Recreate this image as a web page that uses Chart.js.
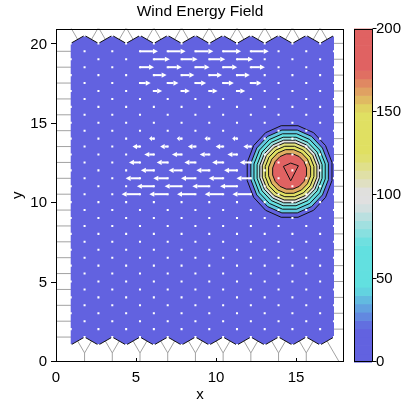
<!DOCTYPE html>
<html><head><meta charset="utf-8">
<script src="https://cdn.jsdelivr.net/npm/chart.js@4/dist/chart.umd.min.js"></script>
<style>html,body{margin:0;padding:0;background:#fff}#wrap{width:407px;height:409px;position:relative}</style>
</head><body><div id="wrap"><canvas id="c"></canvas></div>
<script>
// ---------- data ----------
const TITLE = 'Wind Energy Field';
const X_LABEL = 'x', Y_LABEL = 'y';
const X_RANGE = [0, 18], Y_RANGE = [0, 21], CB_RANGE = [0, 200];
const X_TICKS = [0, 5, 10, 15];
const Y_TICKS = [0, 5, 10, 15, 20];
const CB_TICKS = [0, 50, 100, 150, 200];

// triangular mesh (node m,n exists when m+n is even)
const MESH_X0 = 0.92, MESH_DX = 0.866, MESH_NX = 20;
const MESH_Y0 = 1.07, MESH_DY = 0.5, MESH_NY = 40;

// energy contours (levels and ring half-widths)
const CONTOUR_LEVELS = [20, 40, 60, 80, 100, 120, 140, 160, 180];
const RING_RX = [2.70, 2.47, 2.27, 2.07, 1.90, 1.74, 1.55, 1.34, 1.08];
const RING_RY = [2.94, 2.66, 2.42, 2.20, 2.01, 1.83, 1.62, 1.40, 1.13];
const RING_CENTER = [14.6, 12.0];
const PEAK_LEVEL = 200;
const PEAK_CENTER = [14.67, 12.0];
const PEAK_DX = [-0.46, 0.0, 0.48, 0.0];
const PEAK_DY = [0.32, 0.53, 0.36, -0.59];

// colour map (value stops)
const CMAP_STOPS = [0, 20, 45, 70, 95, 102, 125, 150, 175, 200];
const CMAP_RGB = [[98,98,224],[98,98,224],[98,224,224],[98,224,224],[224,224,224],[224,224,224],[224,224,98],[224,224,98],[224,98,98],[224,98,98]];

// wind vectors: mesh rows and their u component (x-direction)
const EAST_ROWS = [37, 36, 35, 34, 33, 32];
const EAST_U    = [1.12, 1.0, 0.88, 0.8, 0.67, 0.52];
const WEST_ROWS = [26, 25, 24, 23, 22, 21, 20, 19];
const WEST_U    = [-0.3, -0.47, -0.6, -0.69, -0.81, -0.9, -1.06, -1.15];
const ARROW_COLS = [5, 13];

// ---------- helpers ----------
const meshX = m => MESH_X0 + MESH_DX * m;
const meshY = n => MESH_Y0 + MESH_DY * n;
function cmap(v) {
  v = Math.max(CMAP_STOPS[0], Math.min(CMAP_STOPS[CMAP_STOPS.length - 1], v));
  for (let i = 0; i < CMAP_STOPS.length - 1; i++) {
    if (v <= CMAP_STOPS[i + 1]) {
      const t = (v - CMAP_STOPS[i]) / (CMAP_STOPS[i + 1] - CMAP_STOPS[i] || 1);
      const a = CMAP_RGB[i], b = CMAP_RGB[i + 1];
      return 'rgb(' + a.map((c, k) => Math.round(c + (b[k] - c) * t)).join(',') + ')';
    }
  }
  return 'rgb(' + CMAP_RGB[CMAP_RGB.length - 1].join(',') + ')';
}
const meshPts = [];
for (let n = 0; n < MESH_NY; n++) for (let m = 0; m < MESH_NX; m++) if ((m + n) % 2 === 0) meshPts.push({x: meshX(m), y: meshY(n)});

function bottomEdge() { const p = []; for (let m = 0; m < MESH_NX; m++) p.push([meshX(m), meshY(m % 2)]); return p; }
function topEdge() { const p = []; for (let m = MESH_NX - 1; m >= 0; m--) p.push([meshX(m), meshY(m % 2 ? MESH_NY - 1 : MESH_NY - 2)]); return p; }

const FONT = '"Liberation Sans", Arial, Helvetica, sans-serif';

const fieldPlugin = {
  id: 'field',
  beforeDatasetsDraw(chart) {
    const {ctx, chartArea: a, scales: {x, y}} = chart;
    const P = (vx, vy) => [x.getPixelForValue(vx), y.getPixelForValue(vy)];
    const poly = (pts, close) => { ctx.beginPath(); pts.forEach((pt, i) => { const p = P(pt[0], pt[1]); i ? ctx.lineTo(p[0], p[1]) : ctx.moveTo(p[0], p[1]); }); if (close) ctx.closePath(); };
    ctx.save();
    ctx.beginPath(); ctx.rect(a.left, a.top, a.right - a.left, a.bottom - a.top); ctx.clip();
    // dual (cell) lines outside the mesh
    const h = MESH_DX / 3, s = 2 * MESH_DX / 3;
    ctx.beginPath();
    const seg = (x1, y1, x2, y2) => { const p = P(x1, y1), q = P(x2, y2); ctx.moveTo(p[0], p[1]); ctx.lineTo(q[0], q[1]); };
    for (let n = 1; n <= MESH_NY - 3; n += 2) seg(X_RANGE[0] - 1, meshY(n), meshX(0) + h, meshY(n));
    for (let n = 2; n <= MESH_NY - 2; n += 2) seg(meshX(MESH_NX - 1) - h, meshY(n), X_RANGE[1] + 1, meshY(n));
    for (let m = 1; m <= MESH_NX - 3; m += 2) {
      const vy = meshY(0) - MESH_DY;
      seg(meshX(m), Y_RANGE[0] - 1, meshX(m), vy);
      seg(meshX(m), vy, meshX(m) - s, meshY(1));
      seg(meshX(m), vy, meshX(m) + s, meshY(1));
    }
    for (let m = 2; m <= MESH_NX - 2; m += 2) {
      const vy = meshY(MESH_NY - 1) + MESH_DY;
      seg(meshX(m), vy, meshX(m) - s, meshY(MESH_NY - 2));
      seg(meshX(m), vy, meshX(m) + s, meshY(MESH_NY - 2));
    }
    { const sx = meshX(MESH_NX - 1) - s, sy = meshY(1); seg(sx, sy, sx + 0.5 * 4, sy - 0.866 * 4); }
    { const sx = meshX(0) + s, sy = meshY(MESH_NY - 2); seg(sx, sy, sx - 0.5 * 4, sy + 0.866 * 4); }
    ctx.strokeStyle = '#a2a2a2'; ctx.lineWidth = 1; ctx.stroke();
    // mesh domain
    const dom = bottomEdge().concat(topEdge());
    poly(dom, true);
    ctx.fillStyle = cmap(0); ctx.fill();
    ctx.save(); ctx.clip();
    const ring = i => { const pts = []; const N = 16; for (let k = 0; k < N; k++) { const t = (k + 0.5) * 2 * Math.PI / N; pts.push([RING_CENTER[0] + RING_RX[i] * Math.cos(t), RING_CENTER[1] + RING_RY[i] * Math.sin(t)]); } return pts; };
    const peak = PEAK_DX.map((d, k) => [PEAK_CENTER[0] + d, PEAK_CENTER[1] + PEAK_DY[k]]);
    CONTOUR_LEVELS.forEach((lv, i) => { poly(ring(i), true); ctx.fillStyle = cmap(lv); ctx.fill(); });
    poly(peak, true); ctx.fillStyle = cmap(PEAK_LEVEL); ctx.fill();
    ctx.strokeStyle = '#111'; ctx.lineWidth = 1;
    CONTOUR_LEVELS.forEach((lv, i) => { poly(ring(i), true); ctx.stroke(); });
    poly(peak, true); ctx.stroke();
    ctx.restore();
    ctx.strokeStyle = '#111'; ctx.lineWidth = 1;
    poly(bottomEdge(), false); ctx.stroke();
    poly(topEdge(), false); ctx.stroke();
    ctx.restore();
  },
  afterDatasetsDraw(chart) {
    const {ctx, chartArea: a, scales: {x, y, cb}} = chart;
    // arrows
    ctx.save();
    ctx.fillStyle = '#fff'; ctx.strokeStyle = '#fff'; ctx.lineWidth = 2; ctx.lineCap = 'butt';
    const arrow = (vx, vy, u) => {
      const x1 = x.getPixelForValue(vx), y1 = y.getPixelForValue(vy), x2 = x.getPixelForValue(vx + u), y2 = y1;
      const dx = x2 - x1, L = Math.abs(dx); if (L < 0.5) return;
      const ux = dx / L, hl = Math.min(5, L * 0.6), hw = 2.6;
      ctx.beginPath(); ctx.moveTo(x1, y1); ctx.lineTo(x2 - ux * hl, y2); ctx.stroke();
      ctx.beginPath(); ctx.moveTo(x2, y2); ctx.lineTo(x2 - ux * hl, y2 - hw); ctx.lineTo(x2 - ux * hl, y2 + hw); ctx.closePath(); ctx.fill();
    };
    const rowArrows = (rows, us) => rows.forEach((n, i) => {
      for (let m = ARROW_COLS[0]; m <= ARROW_COLS[1]; m++) if ((m + n) % 2 === 0) arrow(meshX(m), meshY(n), us[i]);
    });
    rowArrows(EAST_ROWS, EAST_U);
    rowArrows(WEST_ROWS, WEST_U);
    ctx.restore();
    // frame and ticks
    ctx.save();
    ctx.strokeStyle = '#000'; ctx.lineWidth = 1;
    ctx.strokeRect(Math.round(a.left) + 0.5, Math.round(a.top) + 0.5, Math.round(a.right - a.left) - 1, Math.round(a.bottom - a.top) - 1);
    ctx.beginPath();
    Y_TICKS.forEach(v => { const py = Math.round(y.getPixelForValue(v)) - 0.5; ctx.moveTo(a.left - 5, py); ctx.lineTo(a.left, py); });
    X_TICKS.forEach(v => { if (v === X_RANGE[0]) return; const pxv = Math.round(x.getPixelForValue(v)) + 0.5; ctx.moveTo(pxv, a.bottom); ctx.lineTo(pxv, a.bottom - 4); });
    ctx.stroke();
    // colour bar
    const bx = cb.left + 10, bw = 18;
    for (let v = CB_RANGE[0]; v < CB_RANGE[1]; v += 5) {
      const p0 = cb.getPixelForValue(v), p1 = cb.getPixelForValue(v + 5);
      ctx.fillStyle = cmap(v + 2.5); ctx.fillRect(bx, p1, bw, p0 - p1 + 0.6);
    }
    ctx.strokeRect(Math.round(bx) + 0.5, Math.round(cb.top) + 0.5, bw, Math.round(cb.bottom - cb.top) - 1);
    ctx.beginPath();
    CB_TICKS.forEach(v => { const py = Math.round(cb.getPixelForValue(v)) - 0.5; ctx.moveTo(Math.round(bx) + bw + 0.5, py); ctx.lineTo(Math.round(bx) + bw + 4.5, py); });
    ctx.stroke();
    ctx.restore();
  }
};

new Chart(document.getElementById('c'), {
  type: 'scatter',
  data: { datasets: [{
    data: meshPts, pointStyle: 'rect', pointRadius: 1.45, pointHoverRadius: 1.45,
    pointBackgroundColor: '#ffffff', pointBorderWidth: 0, pointBorderColor: 'rgba(0,0,0,0)'
  }]},
  options: {
    responsive: true, maintainAspectRatio: false, animation: false,
    layout: { padding: 0 },
    plugins: {
      legend: { display: false }, tooltip: { enabled: false },
      title: { display: true, text: TITLE, color: '#000', fullSize: false,
        font: { family: FONT, size: 15.5, weight: 'normal' }, padding: { top: 2, bottom: 8 } }
    },
    scales: {
      x: { type: 'linear', position: 'bottom', min: X_RANGE[0], max: X_RANGE[1],
        afterBuildTicks: s => { s.ticks = X_TICKS.map(v => ({value: v})); },
        afterFit: s => { s.height = 47; },
        grid: { display: false, drawTicks: false }, border: { display: false },
        ticks: { color: '#000', font: { family: FONT, size: 15 }, padding: 7, maxRotation: 0 },
        title: { display: true, text: X_LABEL, color: '#000', font: { family: FONT, size: 15 }, padding: { top: 0, bottom: 5 } } },
      y: { type: 'linear', position: 'left', min: Y_RANGE[0], max: Y_RANGE[1],
        afterBuildTicks: s => { s.ticks = Y_TICKS.map(v => ({value: v})); },
        afterFit: s => { s.width = 56; },
        grid: { display: false, drawTicks: false }, border: { display: false },
        ticks: { color: '#000', font: { family: FONT, size: 15 }, padding: 9 },
        title: { display: true, text: Y_LABEL, color: '#000', font: { family: FONT, size: 15 }, padding: { top: 9, bottom: 0 } } },
      cb: { type: 'linear', position: 'right', min: CB_RANGE[0], max: CB_RANGE[1],
        afterBuildTicks: s => { s.ticks = CB_TICKS.map(v => ({value: v})); },
        afterFit: s => { s.width = 63; },
        grid: { display: false, drawTicks: true, tickLength: 28 }, border: { display: false },
        ticks: { color: '#000', font: { family: FONT, size: 15 }, padding: 4 } }
    }
  },
  plugins: [fieldPlugin]
});
</script></body></html>
